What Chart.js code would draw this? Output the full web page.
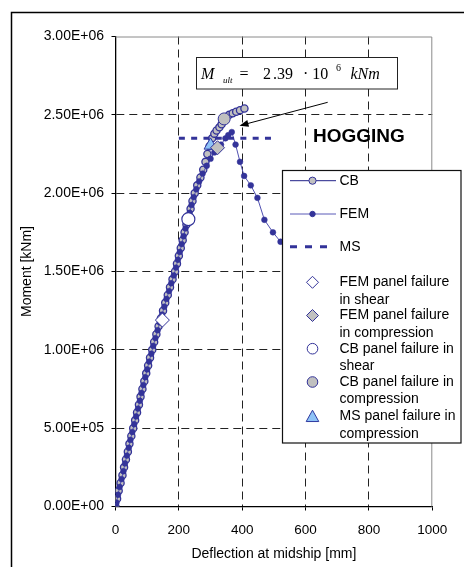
<!DOCTYPE html>
<html>
<head>
<meta charset="utf-8">
<title>Moment vs deflection at midship - hogging</title>
<script src="https://cdn.jsdelivr.net/npm/chart.js@4.4.1/dist/chart.umd.min.js"></script>
<style>
  html, body { margin: 0; padding: 0; background: #fff; }
  canvas { display: block; }
</style>
</head>
<body>
<canvas id="chart" width="464" height="567"></canvas>
<script>
// moments below are in 1e6 kNm
const MEGA = 1e6;

// CB curve
const cbDefl = [0, 5, 10, 16, 22, 27, 33, 39, 44, 50, 56, 62, 68, 74, 79, 85, 91, 97, 103, 109,
  116, 122, 129, 136, 143, 150, 157, 165, 172, 180, 188, 194, 200, 206, 212, 218, 224, 231, 237, 243,
  250, 258, 268, 277, 284, 290, 297, 305, 312, 319, 328, 335, 343, 359, 370, 381, 393, 407];
const cbMoment = [0, 0.05, 0.10, 0.15, 0.20, 0.25, 0.30, 0.35, 0.40, 0.45, 0.50, 0.55, 0.60, 0.65, 0.70, 0.75, 0.80, 0.85, 0.90, 0.95,
  1.00, 1.05, 1.10, 1.15, 1.20, 1.25, 1.30, 1.35, 1.40, 1.45, 1.50, 1.55, 1.60, 1.65, 1.70, 1.75, 1.80, 1.85, 1.90, 1.95,
  2.00, 2.05, 2.10, 2.15, 2.20, 2.25, 2.30, 2.35, 2.38, 2.40, 2.42, 2.44, 2.47, 2.50, 2.51, 2.52, 2.53, 2.54];

// FEM curve (rises to the ultimate moment, then unloads)
const femDefl = [0, 3, 8, 13, 19, 25, 30, 36, 42, 47, 53, 59, 65, 71, 77, 82, 88, 94, 100, 106,
  113, 119, 126, 133, 140, 147, 154, 161, 169, 176, 184, 191, 197, 203, 209, 215, 221, 228, 234, 240,
  247, 255, 264, 275, 288, 300, 312, 322, 333, 347, 356, 367,
  379, 393, 406, 427, 448, 470, 497, 521, 555, 595];
const femMoment = [0, 0.025, 0.075, 0.125, 0.175, 0.225, 0.275, 0.325, 0.375, 0.425, 0.475, 0.525, 0.575, 0.625, 0.675, 0.725, 0.775, 0.825, 0.875, 0.925,
  0.975, 1.025, 1.075, 1.125, 1.175, 1.225, 1.275, 1.325, 1.375, 1.425, 1.475, 1.525, 1.575, 1.625, 1.675, 1.725, 1.775, 1.825, 1.875, 1.925,
  1.975, 2.025, 2.075, 2.125, 2.175, 2.22, 2.26, 2.29, 2.31, 2.35, 2.37, 2.39,
  2.31, 2.20, 2.11, 2.05, 1.97, 1.83, 1.75, 1.69, 1.63, 1.57];

// MS ultimate level
const msDefl = [200, 500];
const msMoment = [2.35, 2.35];

// panel failure points [deflection, moment]
const femShearFail = [148, 1.19];
const femComprFail = [322, 2.29];
const cbShearFail = [230, 1.834];
const cbComprFail = [343, 2.474];
const msComprFail = [300, 2.305];

const xTicks = [0, 200, 400, 600, 800, 1000];
const yTicks = [0, 0.5, 1.0, 1.5, 2.0, 2.5, 3.0];

const BLUE = '#333399';
const GREY = '#c0c0c0';
const SANS = '"Liberation Sans", Arial, sans-serif';
const SERIF = '"Liberation Serif", "Times New Roman", serif';

const pts = (xs, ys) => xs.map((x, i) => ({ x: x, y: ys[i] * MEGA }));
const one = (p) => [{ x: p[0], y: p[1] * MEGA }];

function sciLabel(v) {
  // 2500000 -> 2.50E+06
  const [m, e] = Number(v).toExponential(2).split('e');
  const n = parseInt(e, 10);
  return m + 'E' + (n < 0 ? '-' : '+') + String(Math.abs(n)).padStart(2, '0');
}

// little shape helpers shared by the legend box
function diamond(ctx, x, y, r, fill, stroke) {
  ctx.beginPath();
  ctx.moveTo(x, y - r); ctx.lineTo(x + r, y); ctx.lineTo(x, y + r); ctx.lineTo(x - r, y);
  ctx.closePath();
  ctx.fillStyle = fill; ctx.fill();
  ctx.strokeStyle = stroke; ctx.lineWidth = 1; ctx.stroke();
}
function circle(ctx, x, y, r, fill, stroke) {
  ctx.beginPath();
  ctx.arc(x, y, r, 0, Math.PI * 2);
  ctx.fillStyle = fill; ctx.fill();
  ctx.strokeStyle = stroke; ctx.lineWidth = 1; ctx.stroke();
}
function triangle(ctx, x, y, r, fill, stroke) {
  ctx.beginPath();
  ctx.moveTo(x, y - r); ctx.lineTo(x + r, y + r * 0.8); ctx.lineTo(x - r, y + r * 0.8);
  ctx.closePath();
  ctx.fillStyle = fill; ctx.fill();
  ctx.strokeStyle = stroke; ctx.lineWidth = 1; ctx.stroke();
}

const decorations = {
  id: 'decorations',
  beforeDatasetsDraw(chart) {
    // grey plot-area border on top and right
    const { ctx, chartArea: a } = chart;
    ctx.save();
    ctx.strokeStyle = '#8a8a8a';
    ctx.lineWidth = 1;
    ctx.beginPath();
    ctx.moveTo(a.left, a.top + 0.5);
    ctx.lineTo(a.right - 0.5, a.top + 0.5);
    ctx.lineTo(a.right - 0.5, a.bottom);
    ctx.stroke();
    ctx.restore();
  },
  afterDraw(chart) {
    const ctx = chart.ctx;
    ctx.save();

    // outer frame
    ctx.strokeStyle = '#000';
    ctx.lineWidth = 1.5;
    ctx.beginPath();
    ctx.moveTo(11.5, 567); ctx.lineTo(11.5, 12.5); ctx.lineTo(464, 12.5);
    ctx.stroke();

    // ultimate moment box
    ctx.fillStyle = '#fff';
    ctx.fillRect(196.5, 57.5, 201, 31.5);
    ctx.strokeStyle = '#222';
    ctx.lineWidth = 1;
    ctx.strokeRect(196.5, 57.5, 201, 31.5);
    ctx.fillStyle = '#000';
    ctx.textBaseline = 'alphabetic';
    ctx.textAlign = 'left';
    ctx.font = 'italic 16px ' + SERIF;
    ctx.fillText('M', 201, 78.5);
    ctx.font = 'italic 9px ' + SERIF;
    ctx.fillText('ult', 223, 83);
    ctx.font = '16px ' + SERIF;
    ctx.fillText('=', 239.5, 78.5);
    ctx.fillText('2', 263, 78.5);
    ctx.fillText('.39', 273, 78.5);
    ctx.fillText('\u00b7 10', 303, 78.5);
    ctx.font = '10px ' + SERIF;
    ctx.fillText('6', 336, 71);
    ctx.font = 'italic 16px ' + SERIF;
    ctx.fillText('kNm', 350.5, 78.5);

    // arrow to the peak
    const x1 = 327.7, y1 = 102.3, x2 = 239.5, y2 = 125.7;
    const ang = Math.atan2(y2 - y1, x2 - x1);
    ctx.strokeStyle = '#000';
    ctx.lineWidth = 1;
    ctx.beginPath();
    ctx.moveTo(x1, y1); ctx.lineTo(x2 - 6 * Math.cos(ang), y2 - 6 * Math.sin(ang));
    ctx.stroke();
    ctx.beginPath();
    ctx.moveTo(x2, y2);
    ctx.lineTo(x2 - 9 * Math.cos(ang) + 3.5 * Math.sin(ang), y2 - 9 * Math.sin(ang) - 3.5 * Math.cos(ang));
    ctx.lineTo(x2 - 9 * Math.cos(ang) - 3.5 * Math.sin(ang), y2 - 9 * Math.sin(ang) + 3.5 * Math.cos(ang));
    ctx.closePath();
    ctx.fillStyle = '#000';
    ctx.fill();

    ctx.font = 'bold 19px ' + SANS;
    ctx.textBaseline = 'middle';
    ctx.fillText('HOGGING', 313, 137);

    // legend box
    const L = 282.5, T = 170.5, W = 178.5, H = 272.5;
    ctx.fillStyle = '#fff';
    ctx.fillRect(L, T, W, H);
    ctx.strokeStyle = '#111';
    ctx.lineWidth = 1.2;
    ctx.strokeRect(L, T, W, H);

    const mx = 312.5, tx = 339.5;
    ctx.lineWidth = 1;
    ctx.strokeStyle = '#222288';
    ctx.beginPath(); ctx.moveTo(290, 180.7); ctx.lineTo(336, 180.7); ctx.stroke();
    circle(ctx, mx, 180.7, 3.6, GREY, BLUE);

    ctx.strokeStyle = '#5b5bb8';
    ctx.beginPath(); ctx.moveTo(290, 214); ctx.lineTo(336, 214); ctx.stroke();
    circle(ctx, mx, 214, 2.7, BLUE, BLUE);

    ctx.strokeStyle = BLUE;
    ctx.lineWidth = 3;
    ctx.setLineDash([7, 8]);
    ctx.beginPath(); ctx.moveTo(290, 246.7); ctx.lineTo(328, 246.7); ctx.stroke();
    ctx.setLineDash([]);

    diamond(ctx, mx, 282.3, 6, '#fff', BLUE);
    diamond(ctx, mx, 315.5, 6, GREY, BLUE);
    circle(ctx, mx, 348.7, 5.3, '#fff', BLUE);
    circle(ctx, mx, 382, 5.3, GREY, BLUE);
    triangle(ctx, mx, 416.5, 6.3, '#8ec3f7', '#2f3aa0');

    ctx.fillStyle = '#000';
    ctx.font = '14px ' + SANS;
    ctx.textBaseline = 'middle';
    const rows = [
      ['CB', 180.7], ['FEM', 214], ['MS', 246.7],
      ['FEM panel failure', 282.3], ['in shear', 299.8],
      ['FEM panel failure', 315.5], ['in compression', 333],
      ['CB panel failure in', 348.7], ['shear', 366.2],
      ['CB panel failure in', 382], ['compression', 399.5],
      ['MS panel failure in', 416.5], ['compression', 434]
    ];
    rows.forEach(([t, y]) => ctx.fillText(t, tx, y));

    ctx.restore();
  }
};

Chart.defaults.font.family = SANS;
Chart.defaults.color = '#000';

new Chart(document.getElementById('chart'), {
  type: 'scatter',
  data: {
    datasets: [
      {
        label: 'FEM panel failure in shear',
        data: one(femShearFail),
        pointStyle: 'rectRot', pointRadius: 7,
        backgroundColor: '#fff', borderColor: BLUE, borderWidth: 1,
        order: 1
      },
      {
        label: 'FEM panel failure in compression',
        data: one(femComprFail),
        pointStyle: 'rectRot', pointRadius: 7,
        backgroundColor: GREY, borderColor: BLUE, borderWidth: 1,
        order: 1
      },
      {
        label: 'CB panel failure in shear',
        data: one(cbShearFail),
        pointStyle: 'circle', pointRadius: 6.5,
        backgroundColor: '#fff', borderColor: BLUE, borderWidth: 1.2,
        order: 1
      },
      {
        label: 'CB panel failure in compression',
        data: one(cbComprFail),
        pointStyle: 'circle', pointRadius: 6,
        backgroundColor: GREY, borderColor: BLUE, borderWidth: 1,
        order: 1
      },
      {
        label: 'MS panel failure in compression',
        data: one(msComprFail),
        pointStyle: 'triangle', pointRadius: 7.5,
        backgroundColor: '#8ec3f7', borderColor: '#2f3aa0', borderWidth: 1,
        order: 1
      },
      {
        label: 'MS',
        data: pts(msDefl, msMoment),
        showLine: true, pointRadius: 0,
        borderColor: BLUE, borderWidth: 3, borderDash: [6, 6.3],
        order: 3
      },
      {
        label: 'FEM',
        data: pts(femDefl, femMoment),
        showLine: true,
        borderColor: '#5050b0', borderWidth: 1,
        pointRadius: 2.9, pointBackgroundColor: BLUE, pointBorderColor: BLUE, pointBorderWidth: 0.5,
        order: 4
      },
      {
        label: 'CB',
        data: pts(cbDefl, cbMoment),
        showLine: true,
        borderColor: '#222288', borderWidth: 1,
        pointRadius: 3.6, pointBackgroundColor: GREY, pointBorderColor: BLUE, pointBorderWidth: 1.3,
        order: 5
      }
    ]
  },
  options: {
    responsive: false,
    animation: false,
    devicePixelRatio: 1,
    layout: { padding: { left: 15, top: 36.5, right: 31.7, bottom: 0 } },
    plugins: {
      legend: { display: false },
      tooltip: { enabled: false }
    },
    scales: {
      x: {
        type: 'linear',
        min: xTicks[0],
        max: xTicks[xTicks.length - 1],
        afterBuildTicks: (s) => { s.ticks = xTicks.map(v => ({ value: v })); },
        afterFit: (s) => { s.height = 60.5; },
        ticks: { font: { size: 13.5 }, padding: 12, maxRotation: 0, callback: (v) => String(v) },
        grid: {
          color: (c) => (c.tick && (c.tick.value === 0 || c.tick.value === 1000)) ? 'rgba(0,0,0,0)' : '#222',
          lineWidth: 1,
          tickLength: 4,
          tickColor: '#000'
        },
        border: { display: true, color: '#000', width: 1.3, dash: [8, 5] },
        title: {
          display: true,
          text: 'Deflection at midship [mm]',
          font: { size: 14 },
          padding: { top: 0, bottom: 4 }
        }
      },
      y: {
        type: 'linear',
        min: yTicks[0] * MEGA,
        max: yTicks[yTicks.length - 1] * MEGA,
        afterBuildTicks: (s) => { s.ticks = yTicks.map(v => ({ value: v * MEGA })); },
        afterFit: (s) => { s.width = 100.5; },
        ticks: { font: { size: 14 }, padding: 7.5, callback: (v) => sciLabel(v) },
        grid: {
          color: (c) => (c.tick && (c.tick.value === 0 || c.tick.value === 3 * MEGA)) ? 'rgba(0,0,0,0)' : '#222',
          lineWidth: 1,
          tickLength: 4,
          tickColor: '#000'
        },
        border: { display: true, color: '#000', width: 1.3, dash: [8, 5] },
        title: {
          display: true,
          text: 'Moment [kNm]',
          font: { size: 14 },
          padding: { top: 4, bottom: 0 }
        }
      }
    }
  },
  plugins: [decorations]
});
</script>
</body>
</html>
